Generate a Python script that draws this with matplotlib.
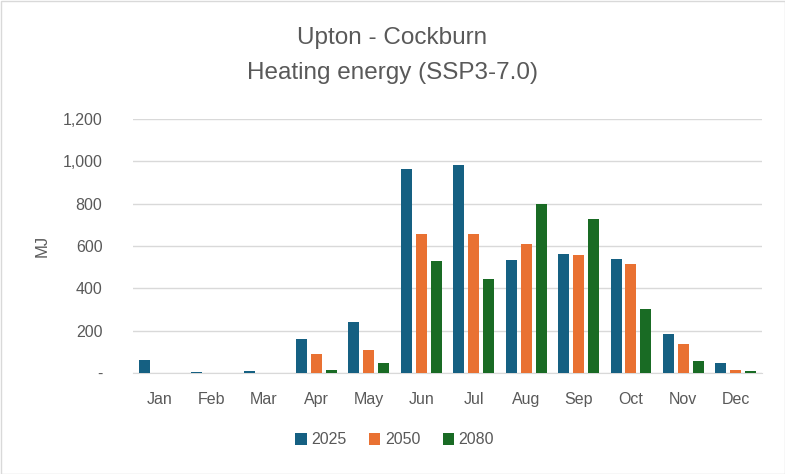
import matplotlib
matplotlib.use("Agg")
import matplotlib.pyplot as plt
import numpy as np
from matplotlib.ticker import FuncFormatter

months = ["Jan", "Feb", "Mar", "Apr", "May", "Jun", "Jul", "Aug", "Sep", "Oct", "Nov", "Dec"]
series_names = ["2025", "2050", "2080"]
v2025 = [61, 3, 10, 160, 240, 963, 982, 534, 562, 537, 185, 47]
v2050 = [2, 0, 0, 90, 108, 657, 657, 609, 557, 515, 137, 15]
v2080 = [0, 0, 0, 14, 47, 529, 444, 798, 727, 302, 57, 8]
colors = ["#156082", "#E97132", "#196B24"]

plt.rcParams['font.family'] = ['Liberation Sans', 'DejaVu Sans']

fig = plt.figure(figsize=(7.85, 4.74), dpi=100)
ax = fig.add_axes([133/785, 1-373/474, 629/785, 254/474])

x = np.arange(len(months))
step = 0.285
width = 0.21
for i, (vals, name, c) in enumerate(zip([v2025, v2050, v2080], series_names, colors)):
    ax.bar(x + (i-1)*step, vals, width=width, color=c, label=name, zorder=3)

ax.set_xlim(-0.5, len(months)-0.5)
ax.set_ylim(0, 1200)
ax.set_yticks(range(0, 1201, 200))
ax.yaxis.set_major_formatter(FuncFormatter(lambda v, p: "-" if v == 0 else f"{int(v):,}"))
ax.set_xticks(x)
ax.set_xticklabels(months)
ax.grid(axis='y', color='#d9d9d9', linewidth=1, zorder=0)
for s in ["top", "right", "left"]:
    ax.spines[s].set_visible(False)
ax.spines["bottom"].set_color('#d9d9d9')
ax.tick_params(axis='both', length=0, labelsize=11.5, colors='#595959')
ax.tick_params(axis='x', pad=14)
ax.tick_params(axis='y', pad=22)
ax.set_ylabel("MJ", fontsize=12, color='#595959', labelpad=9)

fig.text(0.5, 1-38/474, "Upton - Cockburn", ha='center', va='center', fontsize=17.5, color='#595959')
fig.text(0.5, 1-73/474, "Heating energy (SSP3-7.0)", ha='center', va='center', fontsize=17.5, color='#595959')

leg = fig.legend(loc='center', bbox_to_anchor=(0.503, 1-440/474), ncol=3, frameon=False,
                 fontsize=11.5, handlelength=0.7, handleheight=0.7, columnspacing=1.4, handletextpad=0.3)
for t in leg.get_texts():
    t.set_color('#595959')

fig.patches.append(plt.Rectangle((0.5/785, 0.5/474), 1-1/785, 1-1/474, transform=fig.transFigure,
                                 fill=False, edgecolor='#d9d9d9', linewidth=1))
fig.savefig("out.png", dpi=100, facecolor='white')
